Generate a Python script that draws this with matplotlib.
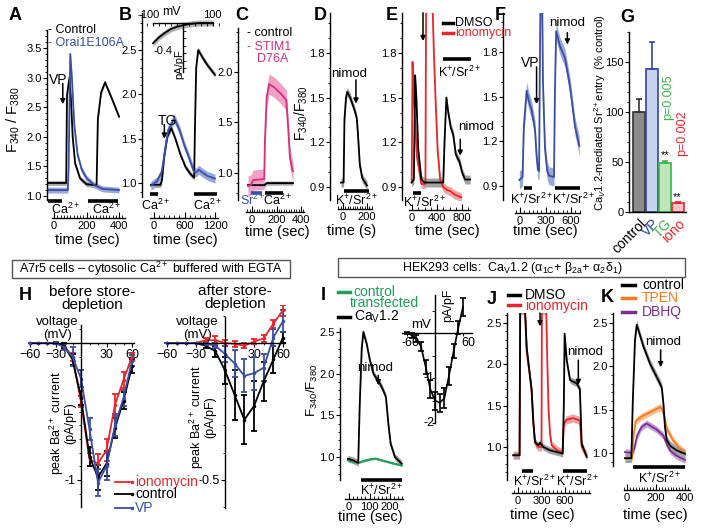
import matplotlib
matplotlib.use("Agg")
import matplotlib.pyplot as plt
import numpy as np
from matplotlib.patches import Rectangle
from matplotlib.ticker import FixedLocator, MultipleLocator, FormatStrFormatter

plt.rcParams['font.family'] = ['Liberation Sans', 'DejaVu Sans']
plt.rcParams['mathtext.fontset'] = 'custom'
plt.rcParams['mathtext.rm'] = 'Liberation Sans'
plt.rcParams['mathtext.it'] = 'Liberation Sans:italic'
plt.rcParams['mathtext.bf'] = 'Liberation Sans:bold'
plt.rcParams['axes.linewidth'] = 1.0

# ---------------- data ----------------
# A: VP response, control vs Orai1 E106A
A_ctrl_t = [-40, 75, 80, 95, 105, 115, 130, 160, 200, 262, 270, 290, 314, 340, 370, 400]
A_ctrl_v = [1.22, 1.22, 2.7, 3.0, 2.6, 2.0, 1.55, 1.3, 1.2, 1.18, 2.3, 2.75, 2.92, 2.75, 2.55, 2.34]
A_orai_t = [-40, 85, 90, 100, 110, 125, 145, 170, 200, 250, 300, 400]
A_orai_v = [1.1, 1.1, 1.5, 3.4, 3.0, 2.2, 1.7, 1.45, 1.3, 1.18, 1.12, 1.1]
A_ca_bars = [(-35, 50), (210, 395)]
A_vp_time = 54

# B: TG response + inset ramp I-V
B_ctrl_t = [-60, 130, 160, 200, 260, 340, 420, 520, 620, 720, 790, 805, 830, 870, 950, 1050, 1200]
B_ctrl_v = [0.98, 0.98, 1.05, 1.3, 1.52, 1.62, 1.5, 1.32, 1.18, 1.1, 1.06, 1.6, 2.3, 2.5, 2.42, 2.33, 2.22]
B_orai_t = [-60, 60, 150, 200, 280, 400, 500, 600, 700, 790, 830, 880, 950, 1050, 1200]
B_orai_v = [0.97, 1.02, 1.12, 1.3, 1.6, 1.73, 1.6, 1.42, 1.27, 1.12, 1.12, 1.15, 1.12, 1.08, 1.05]
B_ca_bars = [(-80, 80), (790, 1235)]
B_tg_time = 203
BI_mv = [-100, -80, -60, -40, -20, 0, 20, 40, 60, 80, 100]
BI_cur = [-0.27, -0.19, -0.13, -0.08, -0.05, -0.03, -0.015, -0.005, 0.0, 0.0, 0.0]

# C: STIM1 D76A
C_ctrl_t = [-33, 100, 120, 335]
C_ctrl_v = [0.88, 0.88, 0.9, 0.9]
C_stim_t = [-33, -10, 10, 100, 105, 120, 140, 180, 240, 280, 295, 310, 330, 335]
C_stim_v = [0.87, 0.88, 0.93, 0.94, 1.3, 1.75, 1.88, 1.85, 1.78, 1.72, 1.45, 1.15, 1.03, 1.02]
C_sr_bar = (-10, 80)
C_ca_bar = (105, 255)

# D: CaV1.2 in A7r5, nimodipine
D_t = [-17, 5, 12, 25, 35, 60, 95, 115, 125, 140, 160, 200]
D_v = [0.93, 0.93, 1.35, 1.5, 1.54, 1.5, 1.42, 1.36, 1.25, 1.05, 0.96, 0.91]
D_bar = (10, 220)
D_nimod_time = 108

# E: DMSO vs ionomycin
E_dmso_t = [-5, 30, 40, 50, 70, 100, 150, 200, 500, 520, 550, 580, 620, 660, 700, 760, 800, 850, 930]
E_dmso_v = [0.93, 0.95, 1.3, 1.65, 1.5, 1.15, 0.95, 0.93, 0.93, 1.2, 1.5, 1.4, 1.3, 1.25, 1.12, 1.07, 1.0, 0.95, 0.95]
E_iono_t = [-5, 0, 8, 30, 80, 150, 215, 225, 330, 350, 380, 410, 450, 500, 560, 620, 680, 790]
E_iono_v = [0.93, 1.2, 1.74, 1.5, 1.1, 0.92, 0.92, 2.1, 2.1, 1.8, 1.45, 1.15, 0.95, 0.9, 0.88, 0.87, 0.85, 0.83]
E_bars = [(15, 145)]
E_top_bar = (500, 950)
E_iono_time = 176
E_nimod_time = 772

# F: VP
F_t = [-8, 30, 45, 78, 100, 137, 176, 195, 210, 225, 232, 240, 262, 270, 294, 320, 340, 400, 410, 425, 470, 529, 588, 647, 698]
F_v = [0.94, 0.96, 1.3, 1.54, 1.48, 1.41, 1.28, 1.1, 1.01, 1.0, 1.6, 2.1, 2.1, 1.6, 1.15, 1.0, 0.97, 0.96, 1.5, 1.94, 1.84, 1.76, 1.57, 1.3, 1.17]
F_bars = [(45, 140), (410, 700)]
F_vp_time = 195
F_nimod_time = 557

# G: summary bars
G_names = ['control', 'VP', 'TG', 'iono']
G_vals = [100, 143, 49, 9]
G_errs = [13, 27, 2, 1]

# H: I-V before / after store depletion
H_mv = [-60, -50, -40, -30, -20, -10, 0, 10, 20, 30, 40, 50, 60]
H1_ctrl = [0, 0, 0, 0, -0.02, -0.12, -0.4, -0.83, -0.98, -0.88, -0.62, -0.42, -0.17]
H1_ctrl_e = [0, 0, 0, 0.01, 0.02, 0.04, 0.05, 0.07, 0.09, 0.09, 0.07, 0.06, 0.05]
H1_iono = [0, 0, 0, 0, -0.02, -0.1, -0.43, -0.85, -0.88, -0.78, -0.45, -0.27, -0.1]
H1_iono_e = [0, 0, 0, 0.01, 0.02, 0.03, 0.04, 0.05, 0.07, 0.08, 0.08, 0.06, 0.03]
H1_vp = [0, 0, 0, 0, -0.03, -0.1, -0.26, -0.63, -1.02, -0.9, -0.6, -0.4, -0.13]
H1_vp_e = [0, 0, 0, 0.01, 0.02, 0.07, 0.06, 0.08, 0.1, 0.1, 0.08, 0.06, 0.04]
H2_ctrl = [0, 0, 0, 0, -0.01, -0.03, -0.1, -0.19, -0.28, -0.23, -0.14, -0.06, 0.02]
H2_ctrl_e = [0, 0, 0, 0, 0.01, 0.02, 0.05, 0.09, 0.09, 0.09, 0.07, 0.05, 0.02]
H2_iono = [0, 0, 0, 0, 0.01, 0.01, 0.0, -0.003, -0.01, 0.005, 0.017, 0.07, 0.12]
H2_iono_e = [0, 0, 0, 0, 0.01, 0.015, 0.01, 0.01, 0.01, 0.01, 0.012, 0.015, 0.02]
H2_vp = [0, 0, 0, 0, -0.002, -0.01, -0.04, -0.075, -0.12, -0.11, -0.09, 0.02, 0.08]
H2_vp_e = [0, 0, 0, 0, 0.005, 0.01, 0.03, 0.05, 0.06, 0.06, 0.05, 0.03, 0.04]

# I: HEK293 CaV1.2 vs control transfected + I-V inset
I_cav_t = [-5, 20, 45, 52, 62, 70, 86, 102, 119, 151, 167, 180, 192, 203, 224, 257]
I_cav_v = [0.98, 0.96, 0.93, 1.6, 2.3, 2.5, 2.36, 2.16, 2.0, 1.88, 1.8, 1.72, 1.4, 1.16, 1.0, 0.92]
I_ctl_t = [-5, 25, 45, 70, 100, 130, 160, 190, 220, 257]
I_ctl_v = [0.96, 0.94, 0.93, 0.95, 0.97, 0.98, 0.96, 0.94, 0.92, 0.9]
I_bar = (58, 260)
I_nimod_time = 143
II_mv = [-60, -50, -40, -30, -20, -10, 0, 10, 20, 30, 40, 50, 60]
II_cur = [0, -0.05, -0.12, -0.3, -0.75, -1.25, -1.5, -1.55, -1.45, -0.95, -0.4, 0.12, 0.58]
II_err = [0.03, 0.05, 0.08, 0.1, 0.15, 0.2, 0.2, 0.2, 0.22, 0.2, 0.15, 0.15, 0.2]

# J: HEK DMSO vs ionomycin
J_dmso_t = [-60, 20, 28, 90, 111, 153, 174, 196, 217, 260, 281, 323, 409, 570, 585, 595, 622, 664, 749, 790, 813, 877]
J_dmso_v = [0.9, 0.9, 2.65, 2.65, 2.2, 1.86, 1.69, 1.29, 1.06, 1.02, 1.05, 1.0, 0.96, 0.92, 1.5, 2.37, 2.05, 1.81, 1.77, 1.7, 1.04, 0.88]
J_iono_t = [-60, 20, 28, 90, 111, 153, 174, 196, 217, 260, 300, 305, 360, 375, 390, 410, 430, 500, 570, 585, 620, 700, 790, 813, 877]
J_iono_v = [0.9, 0.9, 2.65, 2.65, 2.15, 1.85, 1.68, 1.3, 1.05, 1.0, 1.0, 2.65, 2.65, 2.0, 1.45, 1.15, 1.02, 0.96, 0.93, 1.28, 1.33, 1.35, 1.32, 1.0, 0.9]
J_bars = [(47, 196), (579, 877)]
J_iono_time = 281
J_nimod_time = 770

# K: control vs TPEN vs DBHQ
K_ctrl_t = [-14, 30, 40, 55, 67, 113, 159, 228, 240, 251, 262, 274, 300, 343, 400]
K_ctrl_v = [0.94, 0.94, 1.6, 2.3, 2.48, 2.23, 2.03, 1.8, 1.75, 1.57, 1.3, 1.15, 1.08, 1.03, 0.99]
K_tpen_t = [-14, 35, 45, 60, 100, 159, 228, 245, 260, 274, 320, 360, 400]
K_tpen_v = [0.94, 0.94, 1.2, 1.37, 1.42, 1.47, 1.53, 1.5, 1.4, 1.28, 1.14, 1.06, 1.01]
K_dbhq_t = [-14, 35, 50, 70, 100, 136, 205, 251, 275, 297, 340, 400]
K_dbhq_v = [1.01, 1.0, 1.05, 1.2, 1.3, 1.34, 1.27, 1.2, 1.1, 1.03, 0.97, 0.92]
K_bar = (44, 400)
K_nimod_time = 232

# ---------------- colours ----------------
BLK, BLK_B = 'black', '#a3a3a3'
BLU, BLU_B = '#3b4ea3', '#99a8da'
PNK, PNK_B = '#d62f7b', '#f2a0c5'
RED, RED_B = '#e8262b', '#f3a3a3'
GRN = '#1f9e5a'
ORG, ORG_B = '#f47b20', '#f9c08e'
PUR, PUR_B = '#7a2e8e', '#c5a0d6'

W, H = 701, 530
fig = plt.figure(figsize=(W / 100, H / 100), dpi=100)


def lin(p, pa, va, pb, vb):
    return va + (p - pa) * (vb - va) / (pb - pa)


def panel(x0, x1, y0, y1, xm, ym):
    ax = fig.add_axes([x0 / W, 1 - y1 / H, (x1 - x0) / W, (y1 - y0) / H])
    ax.set_xlim(lin(x0, *xm), lin(x1, *xm))
    ax.set_ylim(lin(y1, *ym), lin(y0, *ym))
    ax.patch.set_alpha(0)
    return ax


def trace_axes(ax, xm, xticks, xminor, yticks, yminor, spine_y, bottom_y, xb):
    for s in ['top', 'right']:
        ax.spines[s].set_visible(False)
    ax.spines['bottom'].set_position(('outward', (spine_y - bottom_y) * 0.72))
    t0, t1 = lin(xb[0], *xm), lin(xb[1], *xm)
    ax.spines['bottom'].set_bounds(t0, t1)
    ax.set_xticks(xticks)
    ax.xaxis.set_minor_locator(FixedLocator(np.arange(np.ceil(t0 / xminor) * xminor, t1, xminor)))
    ax.set_yticks(yticks)
    ax.yaxis.set_minor_locator(MultipleLocator(yminor))
    ax.yaxis.set_major_formatter(FormatStrFormatter('%.1f'))
    ax.tick_params(axis='x', which='both', direction='in', labelsize=8, pad=2)
    ax.tick_params(axis='x', which='major', length=4)
    ax.tick_params(axis='x', which='minor', length=2)
    ax.tick_params(axis='y', which='major', length=3, labelsize=8, pad=1)
    ax.tick_params(axis='y', which='minor', length=1.5)


def trace(ax, t, v, sem, color, band, lw=1.3):
    t = np.array(t, float)
    v = np.array(v, float)
    if sem > 0:
        ax.fill_between(t, v - sem, v + sem, color=band, lw=0)
    ax.plot(t, v, color=color, lw=lw)


def stim(ax, spans, py, ym, color='k'):
    yv = lin(py, *ym)
    for a, b in spans:
        ax.plot([a, b], [yv, yv], color=color, lw=2.6, solid_capstyle='butt', clip_on=False)


def arrow(ax, t, v0, v1):
    ax.annotate('', xy=(t, v1), xytext=(t, v0),
                arrowprops=dict(arrowstyle='-|>', color='k', lw=1.1, mutation_scale=7,
                                shrinkA=0, shrinkB=0), annotation_clip=False)


def ftxt(x, y, s, size=9, color='k', ha='center', va='center', **kw):
    fig.text(x / W, 1 - y / H, s, fontsize=size, color=color, ha=ha, va=va, **kw)


def key_line(x0, x1, y, color):
    fig.add_artist(plt.Line2D([x0 / W, x1 / W], [1 - y / H, 1 - y / H], color=color, lw=2.5))


F340 = r'F$_{340}$ / F$_{380}$'
KSR = r'K$^{+}$/Sr$^{2+}$'
CA = r'Ca$^{2+}$'

# ---------------- A ----------------
xm, ym = (54, 0, 119, 400), (48, 3.5, 196, 1.0)
ax = panel(47, 127, 30, 200, xm, ym)
trace_axes(ax, xm, [0, 200, 400], 20, [1.0, 1.5, 2.0, 2.5, 3.0, 3.5], 0.1, 218, 200, (52, 125))
trace(ax, A_ctrl_t, A_ctrl_v, 0.04, BLK, BLK_B)
trace(ax, A_orai_t, A_orai_v, 0.05, BLU, BLU_B)
stim(ax, A_ca_bars, 201, ym)
arrow(ax, A_vp_time, 2.9, 2.55)
ftxt(58, 80, 'VP', 10)
ftxt(66, 209, CA, 9)
ftxt(107, 209, CA, 9)
ftxt(48, 30, '- Control', 9, ha='left')
ftxt(48, 43, '- Orai1E106A', 9, BLU, ha='left')
ftxt(13, 120, F340, 10.5, rotation=90)
ftxt(87, 240, 'time (sec)', 10.5)

# ---------------- B ----------------
xm, ym = (154, 0, 215, 1200), (50, 2.5, 183, 1.0)
ax = panel(142, 222, 13, 197, xm, ym)
trace_axes(ax, xm, [0, 600, 1200], 100, [1.0, 1.5, 2.0, 2.5], 0.1, 218, 197, (150, 218))
trace(ax, B_ctrl_t, B_ctrl_v, 0.03, BLK, BLK_B)
trace(ax, B_orai_t, B_orai_v, 0.05, BLU, BLU_B)
stim(ax, B_ca_bars, 194, ym)
arrow(ax, B_tg_time, 1.66, 1.5)
ftxt(167, 121, 'TG', 10)
ftxt(156, 205, CA, 9)
ftxt(208, 205, CA, 9)
ftxt(185, 240, 'time (sec)', 10.5)

# B inset ramp
xm, ym = (183, 0, 213, 100), (23, 0, 53, -0.4)
ax = panel(146, 220, 8, 73, xm, ym)
ax.fill_between(BI_mv, np.array(BI_cur) - 0.04, np.array(BI_cur) + 0.04, color='#b5b5b5', lw=0)
ax.plot(BI_mv, BI_cur, color='k', lw=1.3)
ax.spines['bottom'].set_visible(False)
ax.spines['right'].set_visible(False)
ax.spines['top'].set_position(('data', 0))
ax.spines['top'].set_bounds(-100, 100)
ax.spines['left'].set_position(('data', 0))
ax.spines['left'].set_bounds(-0.65, 0)
ax.xaxis.set_ticks_position('top')
ax.set_xticks([-100, 100])
ax.set_xticklabels([])
ax.xaxis.set_minor_locator(MultipleLocator(20))
ax.set_yticks([-0.4])
ax.set_yticklabels([])
ax.yaxis.set_minor_locator(FixedLocator([-0.6, -0.5, -0.3, -0.2, -0.1]))
ax.tick_params(which='both', direction='in', length=2)
ftxt(149, 15, '-100', 8)
ftxt(212, 15, '100', 8)
ftxt(171, 12, 'mV', 9)
ftxt(173, 51, '-0.4', 8, ha='right')
ftxt(179, 64, 'pA/pF', 8, rotation=90)

# ---------------- C ----------------
xm, ym = (252, 0, 301, 400), (72, 2.0, 173, 1.0)
ax = panel(238, 305, 28, 200, xm, ym)
trace_axes(ax, xm, [0, 200, 400], 20, [1.0, 1.5, 2.0], 0.1, 212, 200, (246, 304))
trace(ax, C_ctrl_t, C_ctrl_v, 0.02, BLK, BLK_B)
trace(ax, C_stim_t, C_stim_v, 0.1, PNK, PNK_B)
stim(ax, [C_sr_bar], 193, ym, BLU)
stim(ax, [C_ca_bar], 193, ym)
ftxt(253, 200, r'Sr$^{2+}$', 9, BLU)
ftxt(278, 200, CA, 9)
ftxt(247, 33, '- control', 9, ha='left')
ftxt(247, 47, '- STIM1', 9, PNK, ha='left')
ftxt(257, 59, 'D76A', 9, PNK, ha='left')
ftxt(277, 232, 'time (sec)', 10.5)

# ---------------- D ----------------
xm, ym = (343, 0, 367, 200), (53, 1.8, 187, 0.9)
ax = panel(330, 375, 13, 200, xm, ym)
trace_axes(ax, xm, [0, 200], 20, [0.9, 1.2, 1.5, 1.8], 0.1, 209, 200, (338, 372))
trace(ax, D_t, D_v, 0.03, BLK, BLK_B)
stim(ax, [D_bar], 191, ym)
arrow(ax, D_nimod_time, 1.62, 1.46)
ftxt(349, 74, 'nimod', 9.5)
ftxt(357, 200, KSR, 9)
ftxt(301, 113, r'F$_{340}$/F$_{380}$', 10, rotation=90)
ftxt(352, 231, 'time (s)', 10.5)

# ---------------- E ----------------
xm, ym = (412, 0, 462, 800), (53, 1.8, 187, 0.9)
ax = panel(402, 482, 13, 200, xm, ym)
trace_axes(ax, xm, [0, 400, 800], 100, [0.9, 1.2, 1.5, 1.8], 0.1, 210, 200, (409, 470))
trace(ax, E_iono_t, E_iono_v, 0.03, RED, RED_B)
trace(ax, E_dmso_t, E_dmso_v, 0.03, BLK, BLK_B)
stim(ax, E_bars, 193, ym)
stim(ax, [E_top_bar], 59, ym)
arrow(ax, E_iono_time, 2.07, 1.88)
arrow(ax, E_nimod_time, 1.22, 1.11)
ftxt(458, 127, 'nimod', 9.5, ha='left')
ftxt(425, 202, KSR, 9)
ftxt(460, 72, KSR, 9)
key_line(443, 453, 23, BLK)
key_line(443, 453, 33, RED)
ftxt(455, 23, 'DMSO', 9, ha='left')
ftxt(455, 33, 'ionomycin', 9, RED, ha='left')
ftxt(447, 231, 'time (sec)', 10.5)

# ---------------- F ----------------
xm, ym = (520, 0, 571, 600), (52, 1.8, 186, 0.9)
ax = panel(503, 585, 13, 200, xm, ym)
trace_axes(ax, xm, [0, 300, 600], 50, [0.9, 1.2, 1.5, 1.8], 0.1, 213, 200, (515, 580))
trace(ax, F_t, F_v, 0.06, BLU, BLU_B)
stim(ax, F_bars, 188, ym)
arrow(ax, F_vp_time, 1.7, 1.45)
arrow(ax, F_nimod_time, 1.93, 1.85)
ftxt(530, 63, 'VP', 10)
ftxt(567, 23, 'nimod', 9.5)
ftxt(532, 199, KSR, 9)
ftxt(574, 199, KSR, 9)
ftxt(545, 231, 'time (sec)', 10.5)

# ---------------- G ----------------
xm, ym = (639, 0, 678, 3), (212, 0, 62, 150)
ax = panel(629, 686, 32, 212, xm, ym)
faces = ['#8c8c8c', '#c6d4f0', '#bfe5b8', '#f6c6cc']
edges = ['#333333', '#3344a0', '#3cb44b', RED]
xs = np.arange(len(G_names))
ax.bar(xs, G_vals, width=0.88, color=faces, edgecolor=edges, lw=1.2)
for x, v, e, c in zip(xs, G_vals, G_errs, edges):
    ax.errorbar([x], [v], yerr=[[0], [e]], fmt='none', ecolor=c, elinewidth=1.2, capsize=2.5, capthick=1.2)
for s in ['top', 'right']:
    ax.spines[s].set_visible(False)
ax.set_xticks(xs)
ax.set_xticklabels(G_names, rotation=45, ha='right', rotation_mode='anchor', fontsize=10)
for lab, c in zip(ax.get_xticklabels(), ['k', '#2a3a9a', '#3cb44b', RED]):
    lab.set_color(c)
ax.set_yticks([0, 50, 100, 150])
ax.yaxis.set_minor_locator(MultipleLocator(10))
ax.tick_params(axis='x', length=0, pad=3)
ax.tick_params(axis='y', which='major', length=3, labelsize=8, pad=1)
ax.tick_params(axis='y', which='minor', length=1.5)
ftxt(665, 155, '**', 8)
ftxt(677, 197, '**', 8)
ftxt(668, 97, 'p=0.005', 9, '#3cb44b', rotation=90)
ftxt(682, 133, 'p=0.002', 9, RED, rotation=90)
ftxt(600, 113, r'Ca$_V$1.2-mediated Sr$^{2+}$entry  (% control)', 8, rotation=90)

# ---------------- boxes ----------------
fig.add_artist(Rectangle((12 / W, 1 - 278 / H), 278 / W, 18 / H, transform=fig.transFigure,
                         fill=False, ec='#555555', lw=1))
ftxt(151, 269, r'A7r5 cells – cytosolic Ca$^{2+}$ buffered with EGTA', 9)
fig.add_artist(Rectangle((338 / W, 1 - 277 / H), 347 / W, 19 / H, transform=fig.transFigure,
                         fill=False, ec='#555555', lw=1))
ftxt(512, 268, r'HEK293 cells:  Ca$_{\mathrm{V}}$1.2 (α$_{\mathrm{1C}}$+ β$_{\mathrm{2a}}$+ α$_{2}$δ$_{1}$)', 9)


# ---------------- H ----------------
def iv_axes(ax, ybound, ymajor, yminor, xb):
    for s in ['top', 'right']:
        ax.spines[s].set_visible(False)
    ax.spines['left'].set_position(('data', 0))
    ax.spines['bottom'].set_position(('data', 0))
    ax.spines['left'].set_bounds(*ybound)
    ax.spines['bottom'].set_bounds(*xb)
    ax.set_xticks([-60, -30, 30, 60])
    ax.xaxis.set_minor_locator(MultipleLocator(10))
    ax.set_yticks(ymajor)
    ax.yaxis.set_minor_locator(MultipleLocator(yminor))
    ax.tick_params(axis='x', which='major', length=3, labelsize=9, pad=1)
    ax.tick_params(axis='x', which='minor', length=1.5)
    ax.tick_params(axis='y', which='major', length=3, labelsize=9, pad=1)
    ax.tick_params(axis='y', which='minor', length=1.5)


def iv(ax, v, i, e, color):
    ax.errorbar(v, i, yerr=e, color=color, lw=1.3, marker='.', ms=3, elinewidth=1.3,
                capsize=2, capthick=1.3)


xm, ym = (81, 0, 132, 60), (343, 0, 480, -1)
ax = panel(28, 140, 318, 507, xm, ym)
iv_axes(ax, (lin(507, *ym), lin(325, *ym)), [-1], 0.1, (-58, 62))
iv(ax, H_mv, H1_iono, H1_iono_e, RED)
iv(ax, H_mv, H1_ctrl, H1_ctrl_e, BLK)
iv(ax, H_mv, H1_vp, H1_vp_e, BLU)
ax.set_yticklabels(['-1'])

xm, ym = (225, 0, 283, 60), (343, 0, 480, -0.5)
ax = panel(163, 292, 305, 508, xm, ym)
iv_axes(ax, (lin(508, *ym), lin(317, *ym)), [-0.5], 0.1, (-60, 62))
iv(ax, H_mv, H2_iono, H2_iono_e, RED)
iv(ax, H_mv, H2_ctrl, H2_ctrl_e, BLK)
iv(ax, H_mv, H2_vp, H2_vp_e, BLU)
ax.set_yticklabels(['-0.5'])

ftxt(25, 295, 'H', 13, weight='bold')
ftxt(92, 292, 'before store-', 11)
ftxt(92, 305, 'depletion', 11)
ftxt(235, 291, 'after store-', 11)
ftxt(235, 304, 'depletion', 11)
ftxt(57, 322, 'voltage', 9.5)
ftxt(57, 335, '(mV)', 9.5)
ftxt(197, 322, 'voltage', 9.5)
ftxt(197, 335, '(mV)', 9.5)
ftxt(57, 423, r'peak Ba$^{2+}$ current', 9, rotation=90)
ftxt(70, 423, '(pA/pF)', 9, rotation=90)
ftxt(197, 417, r'peak Ba$^{2+}$ current', 9, rotation=90)
ftxt(210, 417, '(pA/pF)', 9, rotation=90)
for yy, lab, c in [(482, 'ionomycin', RED), (494, 'control', BLK), (508, 'VP', BLU)]:
    fig.add_artist(plt.Line2D([115 / W, 132 / W], [1 - yy / H] * 2, color=c, lw=1.3,
                              marker='.', ms=3, markevery=[1]))
    ftxt(135, yy, lab, 10, c, ha='left')

# ---------------- I ----------------
xm, ym = (349, 0, 390, 200), (332, 2.5, 457, 1.0)
ax = panel(340, 405, 328, 480, xm, ym)
trace_axes(ax, xm, [0, 100, 200], 20, [1.0, 1.5, 2.0, 2.5], 0.1, 499, 480, (345, 403))
trace(ax, I_ctl_t, I_ctl_v, 0.01, GRN, '#8fd0ad', lw=1.6)
trace(ax, I_cav_t, I_cav_v, 0.04, BLK, BLK_B)
stim(ax, [I_bar], 480, ym)
arrow(ax, I_nimod_time, 1.98, 1.86)
ftxt(375, 368, 'nimod', 9.5)
ftxt(382, 490, KSR, 9)
ftxt(312, 390, r'F$_{340}$/F$_{380}$', 9.5, rotation=90)
ftxt(370, 517, 'time (sec)', 10.5)
ftxt(323, 295, 'I', 13, weight='bold')
key_line(338, 350, 292, GRN)
key_line(338, 350, 317, BLK)
ftxt(353, 292, 'control', 10, GRN, ha='left')
ftxt(350, 303, 'transfected', 10, GRN, ha='left')
ftxt(354, 317, r'Ca$_{\mathrm{V}}$1.2', 10, ha='left')

# I inset
xm, ym = (435, 0, 463, 60), (333, 0, 378, -1)
ax = panel(400, 478, 292, 426, xm, ym)
for s in ['top', 'right']:
    ax.spines[s].set_visible(False)
ax.spines['left'].set_position(('data', 0))
ax.spines['bottom'].set_position(('data', 0))
ax.spines['left'].set_bounds(-2, 0.85)
ax.spines['bottom'].set_bounds(-70, 80)
ax.errorbar(II_mv, II_cur, yerr=II_err, color='k', lw=1.2, elinewidth=1.2, capsize=2, capthick=1.2)
ax.set_xticks([-60, 60])
ax.set_xticklabels([])
ax.set_yticks([-2, -1])
ax.set_yticklabels([])
ax.yaxis.set_minor_locator(MultipleLocator(0.5))
ax.tick_params(which='both', length=2.5)
ftxt(410, 343, '-60', 9)
ftxt(468, 343, '60', 9)
ftxt(429, 378, '-1', 9)
ftxt(429, 423, '-2', 9)
ftxt(421, 325, 'mV', 9.5)
ftxt(448, 305, 'pA/pF', 9, rotation=90)

# ---------------- J ----------------
xm, ym = (518, 0, 565, 600), (323, 2.5, 447, 1.0)
ax = panel(507, 597, 313, 480, xm, ym)
trace_axes(ax, xm, [0, 300, 600], 50, [1.0, 1.5, 2.0, 2.5], 0.1, 493, 480, (512, 590))
trace(ax, J_iono_t, J_iono_v, 0.05, RED, RED_B)
trace(ax, J_dmso_t, J_dmso_v, 0.04, BLK, BLK_B)
stim(ax, J_bars, 471, ym)
arrow(ax, J_iono_time, 2.62, 2.46)
arrow(ax, J_nimod_time, 2.05, 1.75)
ftxt(585, 352, 'nimod', 9.5)
ftxt(535, 481, KSR, 9)
ftxt(578, 481, KSR, 9)
ftxt(542, 515, 'time (sec)', 10.5)
ftxt(492, 300, 'J', 13, weight='bold')
key_line(508, 520, 295, BLK)
key_line(508, 520, 305, RED)
ftxt(525, 295, 'DMSO', 10, ha='left')
ftxt(525, 306, 'ionomycin', 10, RED, ha='left')

# ---------------- K ----------------
xm, ym = (627, 0, 685, 400), (323, 2.5, 453, 1.0)
ax = panel(613, 692, 313, 466, xm, ym)
trace_axes(ax, xm, [0, 200, 400], 20, [1.0, 1.5, 2.0, 2.5], 0.1, 490, 466, (624, 690))
trace(ax, K_dbhq_t, K_dbhq_v, 0.04, PUR, PUR_B)
trace(ax, K_tpen_t, K_tpen_v, 0.04, ORG, ORG_B)
trace(ax, K_ctrl_t, K_ctrl_v, 0.05, BLK, BLK_B)
stim(ax, [K_bar], 467, ym)
arrow(ax, K_nimod_time, 2.19, 1.99)
ftxt(663, 342, 'nimod', 9.5)
ftxt(660, 478, KSR, 9)
ftxt(655, 515, 'time (sec)', 10.5)
ftxt(607, 297, 'K', 13, weight='bold')
for yy, lab, c in [(285, 'control', BLK), (298, 'TPEN', ORG), (312, 'DBHQ', PUR)]:
    key_line(622, 635, yy, c)
    ftxt(642, yy, lab, 10, c, ha='left')

# panel letters, top row
for x, y, s in [(15, 15, 'A'), (125, 15, 'B'), (242, 15, 'C'), (320, 15, 'D'),
                (392, 15, 'E'), (500, 16, 'F'), (627, 18, 'G')]:
    ftxt(x, y, s, 13, weight='bold')

fig.savefig('out.png', dpi=100)
